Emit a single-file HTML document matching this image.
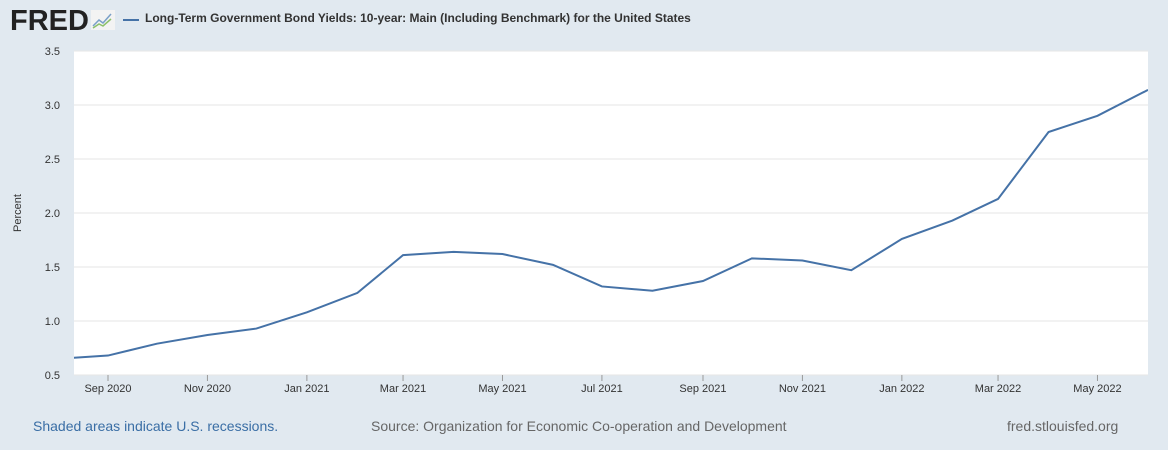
<!DOCTYPE html>
<html><head><meta charset="utf-8"><style>
body{margin:0;width:1168px;height:450px;background:#e1e9f0;font-family:"Liberation Sans",Arial,sans-serif;overflow:hidden;position:relative}
.t{position:absolute;white-space:nowrap}
</style></head><body>
<div class="t" style="left:10px;top:5px;font-size:29px;font-weight:bold;color:#222;letter-spacing:0px">FRED</div>
<svg style="position:absolute;left:91px;top:10px" width="24" height="20"><rect width="24" height="20" fill="#f3f3f3"/><polyline points="2,16 8,10 12,13 20,4" fill="none" stroke="#7aa0c8" stroke-width="1.5"/><polyline points="2,18 8,14 12,16 20,9" fill="none" stroke="#8cc06a" stroke-width="1.5"/></svg>
<div style="position:absolute;left:123px;top:19px;width:16px;height:2px;background:#4572a7"></div>
<div class="t" style="left:145px;top:11px;font-size:12px;font-weight:bold;color:#333">Long-Term Government Bond Yields: 10-year: Main (Including Benchmark) for the United States</div>
<svg id="c" style="position:absolute;left:0;top:0" width="1168" height="450"></svg>
<div class="t" style="left:33px;top:418px;font-size:14px;color:#3a6ea5">Shaded areas indicate U.S. recessions.</div>
<div class="t" style="left:371px;top:418px;font-size:14px;color:#666">Source: Organization for Economic Co-operation and Development</div>
<div class="t" style="left:1007px;top:418px;font-size:14px;color:#666">fred.stlouisfed.org</div>
<script>
const months=["2020-08","2020-09","2020-10","2020-11","2020-12","2021-01","2021-02","2021-03","2021-04","2021-05","2021-06","2021-07","2021-08","2021-09","2021-10","2021-11","2021-12","2022-01","2022-02","2022-03","2022-04","2022-05","2022-06"];
const values=[0.65,0.68,0.79,0.87,0.93,1.08,1.26,1.61,1.64,1.62,1.52,1.32,1.28,1.37,1.58,1.56,1.47,1.76,1.93,2.13,2.75,2.90,3.14];
const yTicks=[0.5,1.0,1.5,2.0,2.5,3.0,3.5];
const xTicks=["2020-09","2020-11","2021-01","2021-03","2021-05","2021-07","2021-09","2021-11","2022-01","2022-03","2022-05"];
const xTickLabels=["Sep 2020","Nov 2020","Jan 2021","Mar 2021","May 2021","Jul 2021","Sep 2021","Nov 2021","Jan 2022","Mar 2022","May 2022"];
const L=74,R=1148,T=51,B=375;
const d0=Date.UTC(2020,8,1),d1=Date.UTC(2022,5,1);
function X(m){const [y,mo]=m.split('-').map(Number);return 108+(Date.UTC(y,mo-1,1)-d0)/(d1-d0)*(R-108);}
function Y(v){return B-(v-0.5)/3*(B-T);}
const s=document.getElementById('c'),NS="http://www.w3.org/2000/svg";
function el(t,a){const e=document.createElementNS(NS,t);for(const k in a)e.setAttribute(k,a[k]);s.appendChild(e);return e;}
let e=el('rect',{x:L,y:T,width:R-L,height:B-T,fill:'#fff'});


yTicks.forEach(v=>{
 const g=el('line',{x1:L,x2:R,y1:Y(v),y2:Y(v),stroke:'#e6e6e6'});
 
 
 const t=el('text',{x:L-14,y:Y(v)+4,'text-anchor':'end','font-size':11,fill:'#333'});t.textContent=v.toFixed(1);
 
 
});
xTicks.forEach((m,i)=>{
 const x=X(m);
 const k=el('line',{x1:x,x2:x,y1:B,y2:B+6,stroke:'#999'});
 
 
 const t=el('text',{x:x,y:B+17,'text-anchor':'middle','font-size':11,fill:'#333'});t.textContent=xTickLabels[i];
 
 
});
const yt=el('text',{x:0,y:0,transform:'translate(21,213) rotate(-90)','text-anchor':'middle','font-size':11,fill:'#333'});yt.textContent='Percent';


el('clipPath',{id:'cp'}).appendChild(document.createElementNS(NS,'rect'));
const cr=s.querySelector('#cp rect');cr.setAttribute('x',L);cr.setAttribute('y',T);cr.setAttribute('width',R-L);cr.setAttribute('height',B-T);
const ln=el('polyline',{points:months.map((m,i)=>X(m)+','+Y(values[i])).join(' '),fill:'none',stroke:'#4572a7','stroke-width':2,'clip-path':'url(#cp)'});


</script>
</body></html>
